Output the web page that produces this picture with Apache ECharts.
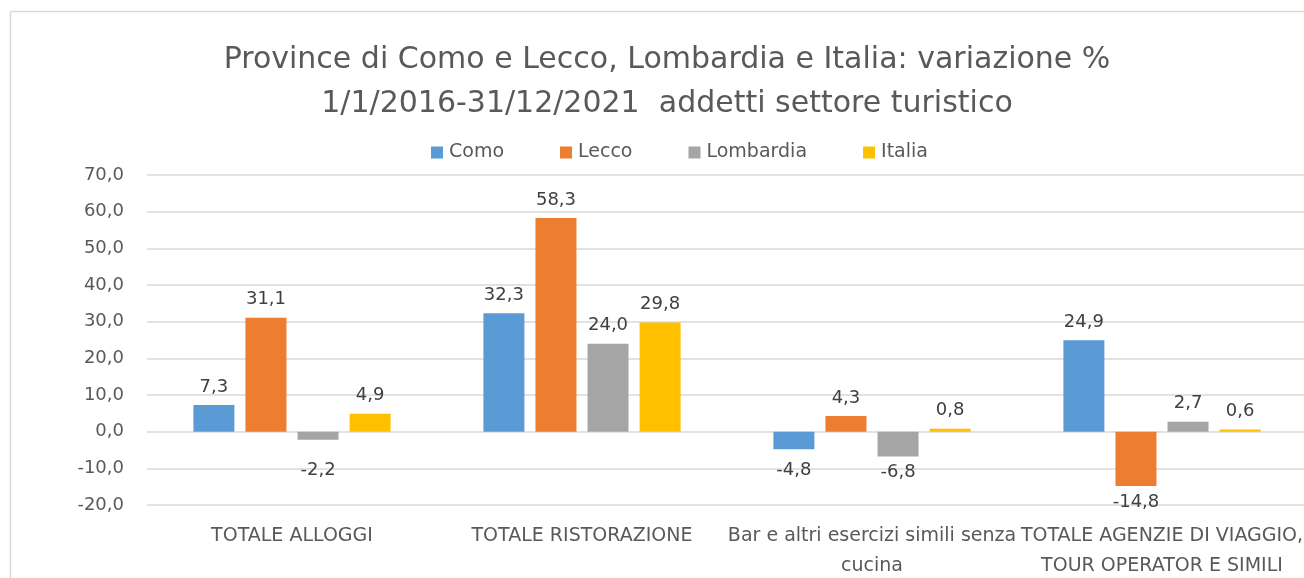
<!DOCTYPE html>
<html>
<head>
<meta charset="utf-8">
<script src="https://cdn.jsdelivr.net/npm/echarts@6/dist/echarts.min.js"></script>
<style>
  html, body {margin: 0; padding: 0; background: #fff;}
  #chart {width: 1304px; height: 578px;}
</style>
</head>
<body>
<div id="chart"></div>
<script>
const categories = [
    'TOTALE ALLOGGI',
    'TOTALE RISTORAZIONE',
    'Bar e altri esercizi simili senza\ncucina',
    'TOTALE AGENZIE DI VIAGGIO,\nTOUR OPERATOR E SIMILI'
];
const como = [7.3, 32.3, -4.8, 24.9];
const lecco = [31.1, 58.3, 4.3, -14.8];
const lombardia = [-2.2, 24.0, -6.8, 2.7];
const italia = [4.9, 29.8, 0.8, 0.6];

const textColor = '#595959';
const font = 'DejaVu Sans';
const pxPerUnit = 330 / 90;

function fmt(v) {
    return v.toFixed(1).replace('.', ',');
}

// negative labels sit below the bar, but not above the -8 line
function labelFor(v) {
    if (v >= 0) return {position: 'top', distance: 9};
    return {position: 'bottom', distance: Math.max(7, (v + 8.2) * pxPerUnit)};
}

function makeSeries(name, values, color) {
    return {
        name: name,
        type: 'bar',
        barGap: '27%',
        barCategoryGap: '32%',
        itemStyle: {color: color},
        label: {
            show: true,
            color: '#404040',
            fontFamily: font,
            fontSize: 18,
            formatter: p => fmt(p.value)
        },
        data: values.map(v => ({value: v, label: labelFor(v)}))
    };
}

const chart = echarts.init(document.getElementById('chart'));
chart.setOption({
    animation: false,
    graphic: [
        {
            type: 'line',
            shape: {x1: 10.5, y1: 11.5, x2: 1304, y2: 11.5},
            style: {stroke: '#d9d9d9', lineWidth: 1.5},
            silent: true
        },
        {
            type: 'line',
            shape: {x1: 10.5, y1: 11.5, x2: 10.5, y2: 578},
            style: {stroke: '#d9d9d9', lineWidth: 1.5},
            silent: true
        }
    ],
    title: {
        text: 'Province di Como e Lecco, Lombardia e Italia: variazione %\n1/1/2016-31/12/2021  addetti settore turistico',
        left: 662,
        textAlign: 'center',
        top: 33,
        textStyle: {
            color: textColor,
            fontFamily: font,
            fontWeight: 'normal',
            fontSize: 30,
            lineHeight: 44
        }
    },
    legend: {
        top: 138,
        left: 426,
        itemWidth: 12,
        itemHeight: 12,
        itemGap: 56,
        icon: 'rect',
        textStyle: {color: textColor, fontFamily: font, fontSize: 19, padding: [0, 0, 0, 1]},
        data: ['Como', 'Lecco', 'Lombardia', 'Italia']
    },
    grid: {
        left: 147,
        width: 1160,
        top: 175,
        height: 330,
        containLabel: false,
        outerBoundsMode: 'none'
    },
    xAxis: {
        type: 'category',
        data: categories,
        axisLine: {show: false},
        axisTick: {show: false},
        axisLabel: {
            color: textColor,
            fontFamily: font,
            fontSize: 19,
            lineHeight: 30,
            margin: 16,
            interval: 0
        }
    },
    yAxis: {
        type: 'value',
        min: -20,
        max: 70,
        interval: 10,
        axisLine: {show: false},
        axisTick: {show: false},
        splitLine: {lineStyle: {color: '#d9d9d9', width: 1.5}},
        axisLabel: {
            color: textColor,
            fontFamily: font,
            fontSize: 18,
            margin: 23,
            formatter: v => fmt(v)
        }
    },
    series: [
        makeSeries('Como', como, '#5B9BD5'),
        makeSeries('Lecco', lecco, '#ED7D31'),
        makeSeries('Lombardia', lombardia, '#A5A5A5'),
        makeSeries('Italia', italia, '#FFC000')
    ]
});
</script>
</body>
</html>
